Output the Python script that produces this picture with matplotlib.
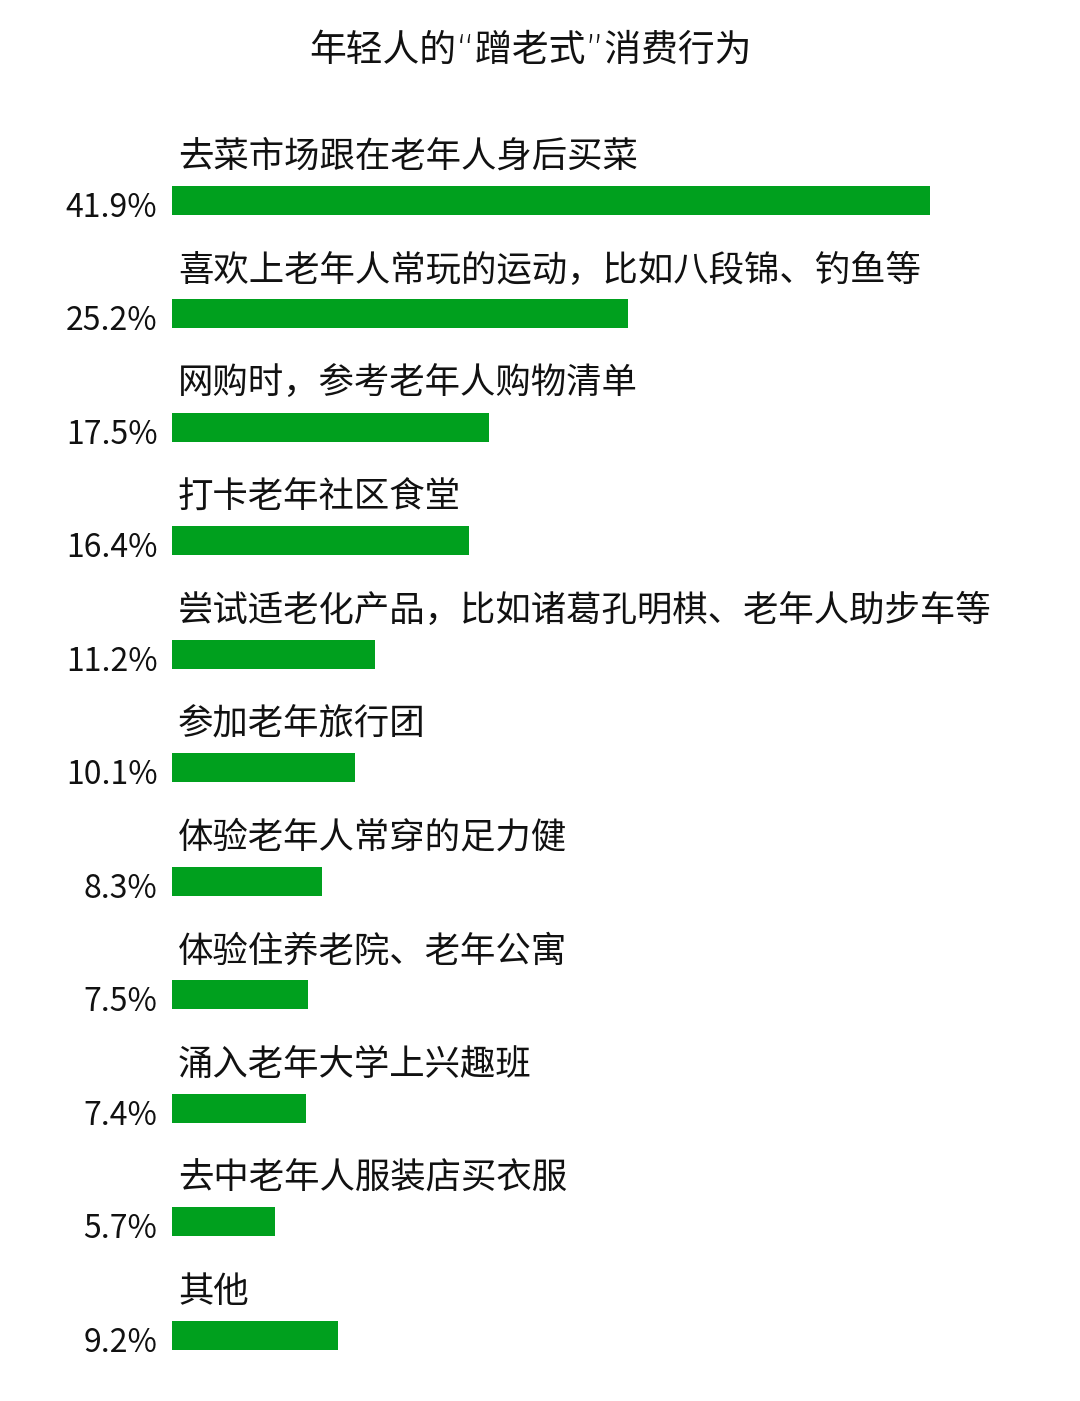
import matplotlib.pyplot as plt

plt.rcParams['font.family'] = ['Noto Sans CJK SC', 'DejaVu Sans']

title = '年轻人的“蹭老式”消费行为'
categories = [
    '去菜市场跟在老年人身后买菜',
    '喜欢上老年人常玩的运动，比如八段锦、钓鱼等',
    '网购时，参考老年人购物清单',
    '打卡老年社区食堂',
    '尝试适老化产品，比如诸葛孔明棋、老年人助步车等',
    '参加老年旅行团',
    '体验老年人常穿的足力健',
    '体验住养老院、老年公寓',
    '涌入老年大学上兴趣班',
    '去中老年人服装店买衣服',
    '其他',
]
values = [41.9, 25.2, 17.5, 16.4, 11.2, 10.1, 8.3, 7.5, 7.4, 5.7, 9.2]

W, H = 1080, 1401
fig = plt.figure(figsize=(W / 100, H / 100), dpi=100)

# 轴位置按像素换算：x=0 在 172px，41.9% 在 930px；第 i 条中心 200 + 113.5*i
px_per_pct = (930 - 172) / 41.9
xmax = 50
top_px, bot_px = 100, 1380
y_top = (top_px - 200) / 113.5
y_bot = (bot_px - 200) / 113.5
ax = fig.add_axes([172 / W, 1 - bot_px / H, xmax * px_per_pct / W, (bot_px - top_px) / H])
ax.set_xlim(0, xmax)
ax.set_ylim(y_bot, y_top)
ax.axis('off')

green = '#00A01E'
ypos = list(range(len(values)))
ax.barh(ypos, values, height=29 / 113.5, color=green)

for i, (cat, v) in enumerate(zip(categories, values)):
    ax.annotate(cat, (0, i), xytext=(4.3, 31), textcoords='offset points',
                ha='left', va='center', fontsize=25.5, fontweight='light', color='#111111')
    ax.annotate(f'{v}%', (0, i), xytext=(-10.5, -5.5), textcoords='offset points',
                ha='right', va='center', fontsize=23, fontweight='light', color='#111111')

fig.text(530 / W, 1 - 50 / H, title, ha='center', va='center',
         family=['DejaVu Sans', 'Noto Sans CJK SC'],
         fontsize=26.5, fontweight='light', color='#111111')

fig.savefig('out.png', dpi=100, facecolor='white')
